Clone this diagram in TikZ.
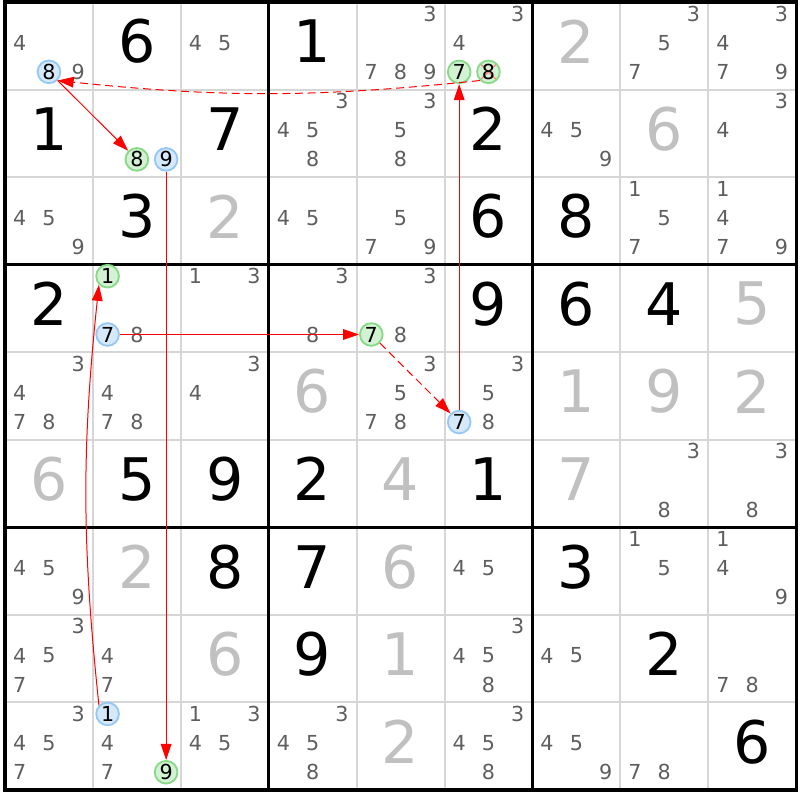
\documentclass[tikz,border=0pt]{standalone}
\usepackage{fontspec}
\setmainfont{DejaVu Sans}
\usepackage{xcolor}
\usepackage{tikz}
\usetikzlibrary{arrows.meta}

\definecolor{solvedgray}{HTML}{C0C0C0}
\definecolor{candgray}{HTML}{5E5E5E}
\definecolor{gridgray}{HTML}{D6D6D6}
\definecolor{pickblue}{HTML}{D6E9FB}
\definecolor{rimblue}{HTML}{96C8F5}
\definecolor{pickgreen}{HTML}{D3F1D3}
\definecolor{rimgreen}{HTML}{88DA88}

\begin{document}
\begin{tikzpicture}[x=65.925pt, y=-65.66pt,
	given/.style={inner sep=0pt, font=\fontsize{44}{44}\selectfont},
	solved/.style={given, text=solvedgray},
	cand/.style={inner sep=0pt, text=candgray, font=\fontsize{15.5}{15.5}\selectfont},
	bluepick/.style={cand, text=black, circle, minimum size=17pt, line width=1.4pt, draw=rimblue, fill=pickblue},
	greenpick/.style={bluepick, draw=rimgreen, fill=pickgreen},
	struck/.style={path picture={\draw[red!45, line width=1.1pt] (path picture bounding box.north west) -- (path picture bounding box.south east) (path picture bounding box.north east) -- (path picture bounding box.south west);}},
	link/.style={red, line width=0.75pt, -{Triangle[length=12pt, width=8pt]}},
	weak/.style={link, dash pattern=on 6pt off 3.5pt}]
	\useasboundingbox (-0.0569,-0.0228) rectangle (9.0444,9.1148);

	\foreach \i in {1,2,4,5,7,8} {
		\draw[gridgray, line width=1.5pt] (\i,0) -- (\i,9);
		\draw[gridgray, line width=1.5pt] (0,\i) -- (9,\i);
	}
	\foreach \i in {3,6} {
		\draw[line width=2.4pt] (\i,0) -- (\i,9);
		\draw[line width=2.4pt] (0,\i) -- (9,\i);
	}
	\draw[line width=2.4pt] (0,0) rectangle (9,9);

	\foreach \row/\col/\dig in {1/2/6, 1/4/1, 2/1/1, 2/3/7, 2/6/2, 3/2/3, 3/6/6, 3/7/8, 4/1/2, 4/6/9, 4/7/6, 4/8/4,
		6/2/5, 6/3/9, 6/4/2, 6/6/1, 7/3/8, 7/4/7, 7/7/3, 8/4/9, 8/8/2, 9/9/6}
		\node[given] (g\row\col) at (\col-0.5, \row-0.55) {\dig};
	\foreach \row/\col/\dig in {1/7/2, 2/8/6, 3/3/2, 4/9/5, 5/4/6, 5/7/1, 5/8/9, 5/9/2, 6/1/6, 6/5/4, 6/7/7,
		7/2/2, 7/5/6, 8/3/6, 8/5/1, 9/5/2}
		\node[solved] (g\row\col) at (\col-0.5, \row-0.55) {\dig};

	\foreach \row/\col/\dig in {1/1/4, 1/1/9, 1/3/4, 1/3/5, 1/5/3, 1/5/7, 1/5/8, 1/5/9, 1/6/3, 1/6/4, 1/8/3, 1/8/5, 1/8/7, 1/9/3, 1/9/4, 1/9/7, 1/9/9,
		2/4/3, 2/4/4, 2/4/5, 2/4/8, 2/5/3, 2/5/5, 2/5/8, 2/7/4, 2/7/5, 2/7/9, 2/9/3, 2/9/4,
		3/1/4, 3/1/5, 3/1/9, 3/4/4, 3/4/5, 3/5/5, 3/5/7, 3/5/9, 3/8/1, 3/8/5, 3/8/7, 3/9/1, 3/9/4, 3/9/7, 3/9/9,
		4/2/8, 4/3/1, 4/3/3, 4/4/3, 4/4/8, 4/5/3, 4/5/8,
		5/1/3, 5/1/4, 5/1/7, 5/1/8, 5/2/4, 5/2/7, 5/2/8, 5/3/3, 5/3/4, 5/5/3, 5/5/5, 5/5/7, 5/5/8, 5/6/3, 5/6/5, 5/6/8,
		6/8/3, 6/8/8, 6/9/3, 6/9/8,
		7/1/4, 7/1/5, 7/1/9, 7/6/4, 7/6/5, 7/8/1, 7/8/5, 7/9/1, 7/9/4, 7/9/9,
		8/1/3, 8/1/4, 8/1/5, 8/1/7, 8/2/4, 8/2/7, 8/6/3, 8/6/4, 8/6/5, 8/6/8, 8/7/4, 8/7/5, 8/9/7, 8/9/8,
		9/1/3, 9/1/4, 9/1/5, 9/1/7, 9/2/4, 9/2/7, 9/3/1, 9/3/3, 9/3/4, 9/3/5, 9/4/3, 9/4/4, 9/4/5, 9/4/8,
		9/6/3, 9/6/4, 9/6/5, 9/6/8, 9/7/4, 9/7/5, 9/7/9, 9/8/7, 9/8/8}
		\node[cand] (k\row\col\dig) at ({\col-1+(2*mod(\dig-1,3)+1)/6}, {\row-1+(2*floor((\dig-1)/3)+1)/6-0.035}) {\dig};

	\node[bluepick] (k118) at (0.5,0.798) {8};
	\node[greenpick] (k167) at (5.167,0.798) {7};
	\node[greenpick, struck] (k168) at (5.5,0.798) {8};
	\node[greenpick] (k228) at (1.5,1.798) {8};
	\node[bluepick] (k229) at (1.833,1.798) {9};
	\node[greenpick] (k421) at (1.167,3.132) {1};
	\node[bluepick] (k427) at (1.167,3.798) {7};
	\node[greenpick] (k457) at (4.167,3.798) {7};
	\node[bluepick] (k567) at (5.167,4.798) {7};
	\node[bluepick] (k921) at (1.167,8.132) {1};
	\node[greenpick] (k929) at (1.833,8.798) {9};

	\draw[weak] (k168.south west) to[bend left=6] (k118.south east);
	\draw[link] (k118) -- (k228);
	\draw[link] (k229) -- (k929);
	\draw[link] (k921.north west) to[bend left=6] (k421.south west);
	\draw[link] (k427) -- (k457);
	\draw[weak] (k457) -- (k567);
	\draw[link] (k567) -- (k167);
\end{tikzpicture}
\end{document}
